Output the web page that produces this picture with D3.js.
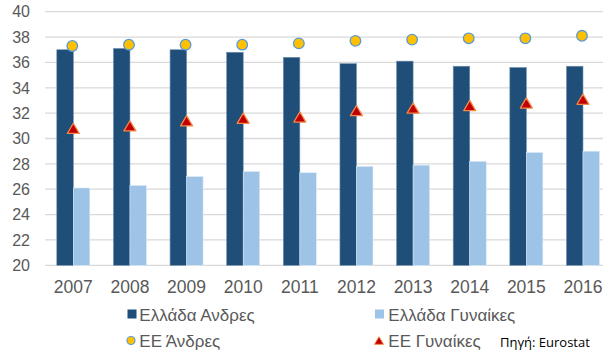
<!DOCTYPE html>
<html>
<head>
<meta charset="utf-8">
<script src="https://cdn.jsdelivr.net/npm/d3@7"></script>
<style>
  body { margin: 0; background: #fff; }
  svg { display: block; font-family: "Liberation Sans", Arial, sans-serif; }
</style>
</head>
<body>
<div id="chart"></div>
<script>
var width = 603, height = 350;

var years = ['2007', '2008', '2009', '2010', '2011', '2012', '2013', '2014', '2015', '2016'];
var grMen   = [37.0, 37.1, 37.0, 36.8, 36.4, 35.9, 36.1, 35.7, 35.6, 35.7];
var grWomen = [26.1, 26.3, 27.0, 27.4, 27.3, 27.8, 27.9, 28.2, 28.9, 29.0];
var euMen   = [37.3, 37.4, 37.4, 37.4, 37.5, 37.7, 37.8, 37.9, 37.9, 38.1];
var euWomen = [30.8, 31.0, 31.4, 31.6, 31.7, 32.2, 32.4, 32.6, 32.8, 33.1];
var yTicks  = [20, 22, 24, 26, 28, 30, 32, 34, 36, 38, 40];

var colDark = '#1F4E79', colLight = '#9DC3E6';

var svg = d3.select('#chart').append('svg')
    .attr('width', width)
    .attr('height', height);

var x = d3.scaleBand()
    .domain(years)
    .range([45, 611.3])
    .paddingInner(0.417)
    .paddingOuter(0.2085);

var x1 = d3.scaleBand()
    .domain(['m', 'w'])
    .range([0, x.bandwidth()]);

var y = d3.scaleLinear()
    .domain([20, 40])
    .range([265.3, 11.7]);

// excel-like triangle, a bit wider than tall, centred on its box
var excelTriangle = {
    draw: function(ctx, size) {
        var w = Math.sqrt(size), h = w * 0.85;
        ctx.moveTo(0, -h / 2);
        ctx.lineTo(w / 2, h / 2);
        ctx.lineTo(-w / 2, h / 2);
        ctx.closePath();
    }
};

// gridlines
svg.append('g').selectAll('line')
    .data(yTicks)
    .enter().append('line')
    .attr('x1', 45).attr('x2', width)
    .attr('y1', function(d) { return y(d); })
    .attr('y2', function(d) { return y(d); })
    .style('stroke', '#D9D9D9')
    .style('stroke-width', 1.3);

// y labels
svg.append('g').selectAll('text')
    .data(yTicks)
    .enter().append('text')
    .attr('x', 30)
    .attr('y', function(d) { return y(d); })
    .attr('dy', '0.36em')
    .attr('text-anchor', 'end')
    .style('font-size', '16px')
    .style('fill', '#595959')
    .text(function(d) { return d; });

// x labels
svg.append('g').selectAll('text')
    .data(years)
    .enter().append('text')
    .attr('x', function(d) { return x(d) + x.bandwidth() / 2; })
    .attr('y', 293.3)
    .attr('text-anchor', 'middle')
    .style('font-size', '17.5px')
    .style('fill', '#595959')
    .text(function(d) { return d; });

// bars
var groups = svg.append('g').selectAll('g')
    .data(years)
    .enter().append('g')
    .attr('transform', function(d) { return 'translate(' + x(d) + ',0)'; });

groups.append('rect')
    .attr('x', x1('m'))
    .attr('width', x1.bandwidth())
    .attr('y', function(d, i) { return y(grMen[i]); })
    .attr('height', function(d, i) { return y(20) - y(grMen[i]); })
    .style('fill', colDark)
    .style('stroke', '#6E8FB0')
    .style('stroke-width', 0.6);

groups.append('rect')
    .attr('x', x1('w'))
    .attr('width', x1.bandwidth())
    .attr('y', function(d, i) { return y(grWomen[i]); })
    .attr('height', function(d, i) { return y(20) - y(grWomen[i]); })
    .style('fill', colLight)
    .style('stroke', '#DDEBF7')
    .style('stroke-width', 0.6);

// EU markers
svg.append('g').selectAll('circle')
    .data(years)
    .enter().append('circle')
    .attr('cx', function(d) { return x(d) + x.bandwidth() / 2 - 1; })
    .attr('cy', function(d, i) { return y(euMen[i]); })
    .attr('r', 5.3)
    .style('fill', '#FFC000')
    .style('stroke', '#5B9BD5')
    .style('stroke-width', 1.3);

var tri = d3.symbol().type(excelTriangle).size(144);

svg.append('g').selectAll('path')
    .data(years)
    .enter().append('path')
    .attr('d', tri)
    .attr('transform', function(d, i) {
        return 'translate(' + (x(d) + x.bandwidth() / 2) + ',' + y(euWomen[i]) + ')';
    })
    .style('fill', '#C00000')
    .style('stroke', '#F4894A')
    .style('stroke-width', 1.3)
    .style('stroke-linejoin', 'round');

// legend
var legend = svg.append('g');
var legText = function(lx, ly, t) {
    legend.append('text')
        .attr('x', lx).attr('y', ly)
        .style('font-size', '17px')
        .style('fill', '#595959')
        .text(t);
};

legend.append('rect').attr('x', 127.5).attr('y', 309.5).attr('width', 9).attr('height', 9).style('fill', colDark);
legText(139.3, 320.7, 'Ελλάδα Ανδρες');
legend.append('rect').attr('x', 375).attr('y', 309.5).attr('width', 9).attr('height', 9).style('fill', colLight);
legText(388.3, 320.7, 'Ελλάδα Γυναίκες');

legend.append('circle').attr('cx', 131).attr('cy', 340.5).attr('r', 4)
    .style('fill', '#FFC000').style('stroke', '#5B9BD5').style('stroke-width', 1.2);
legText(139.3, 346.7, 'ΕΕ Άνδρες');
legend.append('path').attr('d', d3.symbol().type(excelTriangle).size(81))
    .attr('transform', 'translate(379,340.5)')
    .style('fill', '#C00000').style('stroke', '#F4894A').style('stroke-width', 1);
legText(388.3, 346.7, 'ΕΕ Γυναίκες');

legend.append('text')
    .attr('x', 500).attr('y', 346.7)
    .style('font-family', '"Open Sans", sans-serif')
    .style('font-size', '13px')
    .style('fill', '#000')
    .text('Πηγή: Eurostat');
</script>
</body>
</html>
